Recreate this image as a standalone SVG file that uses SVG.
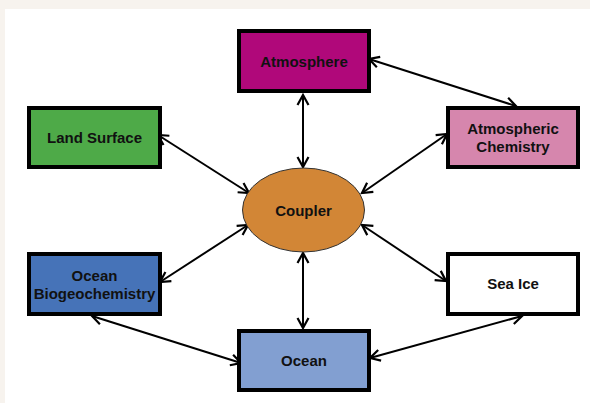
<svg xmlns="http://www.w3.org/2000/svg" width="590" height="403" viewBox="0 0 590 403">
  <style>
    .box { stroke: #000; stroke-width: 4; }
    .lbl { font-family: "Liberation Sans", Arial, sans-serif; font-weight: bold; font-size: 15px; fill: #111; text-anchor: middle; }
    .conn { stroke: #000; stroke-width: 2; fill: none; marker-start: url(#arr); marker-end: url(#arr); }
  </style>
  <defs>
    <marker id="arr" viewBox="-12 -7 14 14" refX="0" refY="0" markerWidth="14" markerHeight="14" markerUnits="userSpaceOnUse" orient="auto-start-reverse">
      <path d="M-10,-5.5 L0,0 L-10,5.5" fill="none" stroke="#000" stroke-width="2.2"/>
    </marker>
  </defs>
  <rect x="0" y="0" width="590" height="403" fill="#f7f3ee"/>
  <rect x="5" y="9" width="585" height="394" fill="#ffffff"/>

  <g id="connectors">
    <line class="conn" x1="303" y1="95" x2="303" y2="167"/>
    <line class="conn" x1="369" y1="59" x2="516" y2="106"/>
    <line class="conn" x1="158" y1="135" x2="249" y2="193"/>
    <line class="conn" x1="447" y1="134" x2="362" y2="193"/>
    <line class="conn" x1="160" y1="282" x2="248" y2="225"/>
    <line class="conn" x1="362" y1="225" x2="446" y2="281"/>
    <line class="conn" x1="303" y1="253" x2="303" y2="328"/>
    <line class="conn" x1="92" y1="316" x2="241" y2="363"/>
    <line class="conn" x1="522" y1="316" x2="370" y2="358"/>
  </g>

  <g id="atmosphere">
    <rect class="box" x="239" y="31" width="130" height="60" fill="#b0087a"/>
    <text class="lbl" x="304" y="66.5">Atmosphere</text>
  </g>
  <g id="land-surface">
    <rect class="box" x="29" y="108" width="131" height="59" fill="#4eaa48"/>
    <text class="lbl" x="94.5" y="143">Land Surface</text>
  </g>
  <g id="atmospheric-chemistry">
    <rect class="box" x="448" y="108" width="130" height="59" fill="#d686ad"/>
    <text class="lbl" x="513" y="134">Atmospheric</text>
    <text class="lbl" x="513" y="152">Chemistry</text>
  </g>
  <g id="coupler">
    <ellipse cx="303.5" cy="210" rx="61" ry="42" fill="#d28636" stroke="#333" stroke-width="1"/>
    <text class="lbl" x="303.5" y="216">Coupler</text>
  </g>
  <g id="ocean-biogeochemistry">
    <rect class="box" x="29" y="254" width="131" height="60" fill="#4673b8"/>
    <text class="lbl" x="94.5" y="281">Ocean</text>
    <text class="lbl" x="94.5" y="299">Biogeochemistry</text>
  </g>
  <g id="sea-ice">
    <rect class="box" x="448" y="254" width="130" height="60" fill="#ffffff"/>
    <text class="lbl" x="513" y="289">Sea Ice</text>
  </g>
  <g id="ocean">
    <rect class="box" x="239" y="331" width="130" height="59" fill="#829fd1"/>
    <text class="lbl" x="304" y="366">Ocean</text>
  </g>
</svg>
